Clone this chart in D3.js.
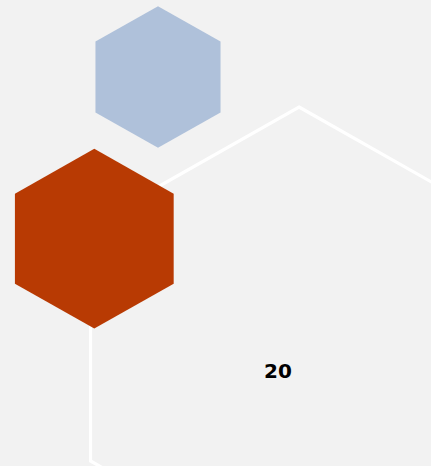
<!DOCTYPE html>
<html>
<head>
<meta charset="utf-8">
<script src="https://cdn.jsdelivr.net/npm/d3@7"></script>
<style>
  html, body { margin: 0; padding: 0; background: #f2f2f2; }
  svg { display: block; }
</style>
</head>
<body>
<svg></svg>
<script>
var width = 431;
var height = 466;

// データ
var categories = ["total", "A", "B"];
var values = [20, 2.9, 1.8];
var labels = ["20", "", ""];

// 六角形の中心（レイアウト）
var centersX = [299, 94.3, 158];
var centersY = [343, 238.7, 77];

var colors = { total: "none", A: "#b83a03", B: "#afc1da" };

// 面積が値に比例するようにsqrtスケール
var r = d3.scaleSqrt().domain([0, 20]).range([0, 236]);
var aspect = 1.02;

function hexPath(cx, cy, ry) {
  var rx = ry * aspect;
  var pts = d3.range(6).map(function(i) {
    var a = i * Math.PI / 3;
    return [cx + rx * Math.sin(a), cy - ry * Math.cos(a)];
  });
  return d3.line()(pts) + "Z";
}

var svg = d3.select("svg")
    .attr("width", width)
    .attr("height", height);

svg.append("rect")
    .attr("width", width)
    .attr("height", height)
    .attr("fill", "#f2f2f2");

var data = categories.map(function(c, i) {
  return { name: c, value: values[i], label: labels[i], cx: centersX[i], cy: centersY[i] };
});

svg.selectAll("path.hex")
    .data(data)
  .enter().append("path")
    .attr("class", "hex")
    .attr("d", function(d) { return hexPath(d.cx, d.cy, r(d.value)); })
    .attr("fill", function(d) { return colors[d.name]; })
    .attr("stroke", function(d) { return d.name === "total" ? "#ffffff" : "none"; })
    .attr("stroke-width", 3.2);

svg.selectAll("text.label")
    .data(data.filter(function(d) { return d.label; }))
  .enter().append("text")
    .attr("class", "label")
    .attr("x", function(d) { return d.cx - 21; })
    .attr("y", function(d) { return d.cy + 35; })
    .attr("text-anchor", "middle")
    .attr("font-family", "DejaVu Sans, sans-serif")
    .attr("font-weight", "bold")
    .attr("font-size", 20)
    .attr("fill", "#000")
    .text(function(d) { return d.label; });
</script>
</body>
</html>
